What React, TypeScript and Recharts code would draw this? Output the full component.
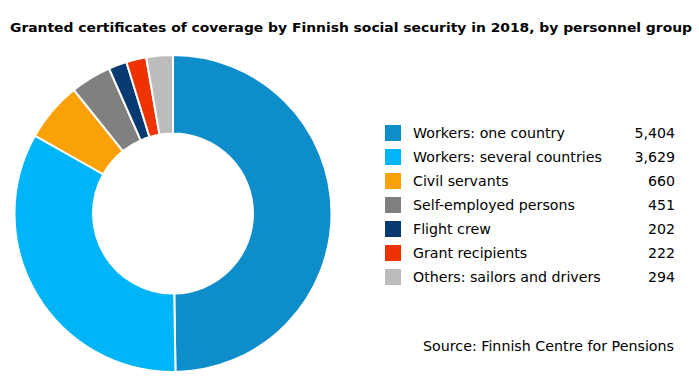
import React from 'react';
import { PieChart, Pie, Cell, Legend } from 'recharts';

const title = 'Granted certificates of coverage by Finnish social security in 2018, by personnel group';
const source = 'Source: Finnish Centre for Pensions';
const categories = [
  'Workers: one country',
  'Workers: several countries',
  'Civil servants',
  'Self-employed persons',
  'Flight crew',
  'Grant recipients',
  'Others: sailors and drivers',
];
const values = [5404, 3629, 660, 451, 202, 222, 294];
const colors = ['#0e8dcb', '#00b5f7', '#f9a106', '#808080', '#063a70', '#ee3300', '#bcbcbc'];

const data = categories.map((name, i) => ({ name, value: values[i] }));

const FONT = '"DejaVu Sans", Verdana, sans-serif';

const LegendContent = () => (
  <div style={{ fontFamily: FONT, fontSize: 14.2, color: '#000' }}>
    {data.map((d, i) => (
      <div key={d.name} style={{ position: 'relative', height: 24, width: 290 }}>
        <div style={{ position: 'absolute', left: 0, top: 0, width: 16, height: 16, background: colors[i] }} />
        <div style={{ position: 'absolute', left: 28, top: -1, whiteSpace: 'nowrap', lineHeight: '18px' }}>{d.name}</div>
        <div style={{ position: 'absolute', right: 0, top: -1, lineHeight: '18px' }}>{d.value.toLocaleString('en-US')}</div>
      </div>
    ))}
  </div>
);

export default function App() {
  return (
    <div style={{ position: 'absolute', left: 0, top: 0, width: 699, height: 382, background: '#fff' }}>
      <svg width={699} height={382} style={{ position: 'absolute', left: 0, top: 0 }}>
        <text x={10} y={32} fontFamily={'"DejaVu Sans Condensed", "DejaVu Sans", sans-serif'} fontWeight="bold" fontSize={13} textLength={682} lengthAdjust="spacingAndGlyphs" fill="#000">{title}</text>
        <text x={423} y={351} fontFamily={FONT} fontSize={14.2} textLength={251} lengthAdjust="spacingAndGlyphs" fill="#000">{source}</text>
      </svg>
      <div style={{ position: 'absolute', left: 0, top: 0 }}>
        <PieChart width={699} height={382} margin={{ top: 0, right: 0, bottom: 0, left: 0 }}>
          <Pie
            data={data}
            dataKey="value"
            nameKey="name"
            cx={173}
            cy={213.5}
            innerRadius={80}
            outerRadius={158.5}
            startAngle={90}
            endAngle={-270}
            stroke="#fff"
            strokeWidth={2}
            isAnimationActive={false}
          >
            {data.map((d, i) => (
              <Cell key={d.name} fill={colors[i]} />
            ))}
          </Pie>
          <Legend content={<LegendContent />} wrapperStyle={{ left: 385, top: 125, width: 290 }} />
        </PieChart>
      </div>
    </div>
  );
}
